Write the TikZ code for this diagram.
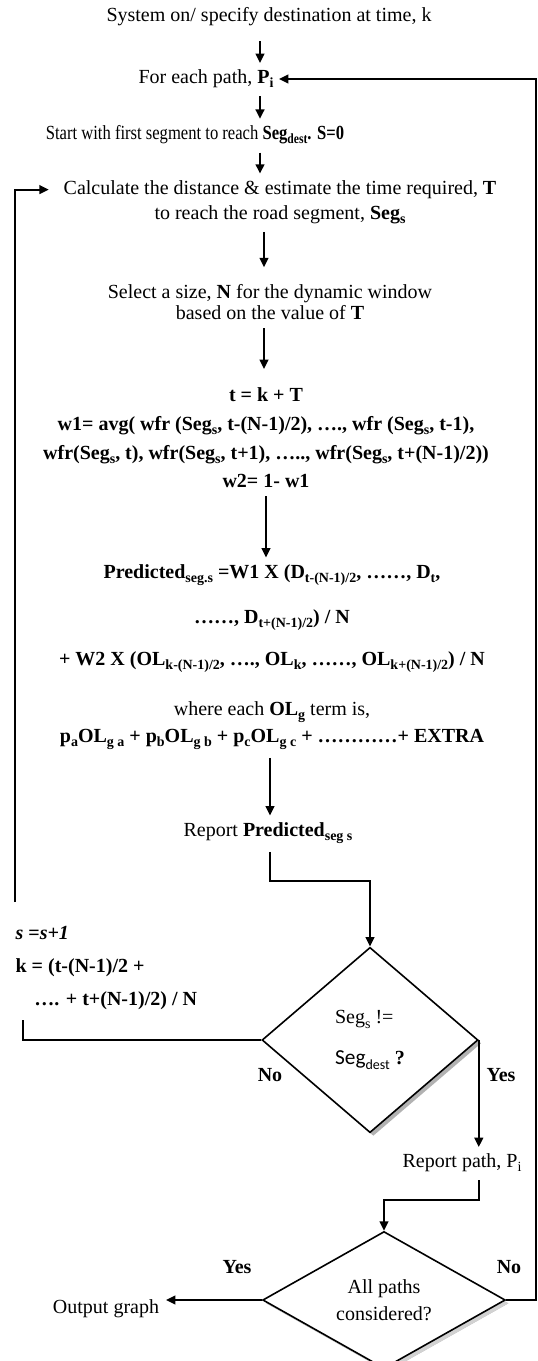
\documentclass[tikz,border=0pt]{standalone}
\usepackage{fontspec}
\setmainfont{Liberation Serif}
\newfontfamily\segfont{Carlito}
\newfontfamily\narrowfont[FakeStretch=0.83]{Liberation Serif}
\usepackage{tikz}
\usetikzlibrary{positioning,arrows.meta,shapes.geometric,shadows}
\newcommand{\fsz}{\fontsize{15pt}{17.5pt}\selectfont}
\newcommand{\sub}[1]{\raisebox{-0.45ex}{\fontsize{10.5pt}{12pt}\selectfont #1}}

\begin{document}
\begin{tikzpicture}[
  x=0.75pt, y=-0.75pt,
  font=\fsz,
  txt/.style={inner sep=1pt, align=center},
  bld/.style={txt, font=\fsz\bfseries},
  lbl/.style={inner sep=1pt, font=\fsz\bfseries},
  arr/.style={-{Triangle[length=7pt,width=6.5pt]}, line width=1.5pt, shorten <=5pt, shorten >=4pt},
  plain/.style={line width=1.5pt},
  ret/.style={line width=1.8pt},
  dec/.style={diamond, draw, line width=1.2pt, fill=white, inner sep=0pt, align=center,
              drop shadow={shadow xshift=2.5pt, shadow yshift=-2.5pt, fill=gray!60, opacity=1}}]
\useasboundingbox (0,0) rectangle (537,1361);
\coordinate (c1) at (260,0);
\coordinate (c2) at (264,0);
\coordinate (c3) at (266,0);
\coordinate (c4) at (270,0);
\node[txt] (sys) at (269,17) {System on/ specify destination at time, k};
\node[txt] (path) at (206,79) {For each path, \textbf{P\sub{i}}};
\node[txt, font=\fsz\narrowfont] (first) at (195,135) {Start with first segment to reach \textbf{Seg\sub{dest}. S=0}};
\node[txt] (calc) at (280,202) {Calculate the distance \& estimate the time required, \textbf{T}\\[1pt]
  to reach the road segment, \textbf{Seg\sub{s}}};
\node[txt] (sel) at (270,302) {Select a size, \textbf{N} for the dynamic window\\[-1.5pt]
  based on the value of \textbf{T}};
\node[bld] (wgt) at (266,438) {t = k + T\\[4pt]
  w1= avg( wfr (Seg\sub{s}, t-(N-1)/2), …., wfr (Seg\sub{s}, t-1),\\[4pt]
  wfr(Seg\sub{s}, t), wfr(Seg\sub{s}, t+1), ….., wfr(Seg\sub{s}, t+(N-1)/2))\\[4pt]
  w2= 1- w1};
\node[txt] (pred) at (272,657) {\textbf{Predicted\sub{seg.s} =W1 X (D\sub{t-(N-1)/2}, ……, D\sub{t},}\\[16pt]
  \textbf{……, D\sub{t+(N-1)/2}) / N}\\[14pt]
  \textbf{+ W2 X (OL\sub{k-(N-1)/2}, …., OL\sub{k}, ……, OL\sub{k+(N-1)/2}) / N}\\[20pt]
  where each \textbf{OL\sub{g}} term is,\\[3pt]
  \textbf{p\sub{a}OL\sub{g a} + p\sub{b}OL\sub{g b} + p\sub{c}OL\sub{g c} + …………+ EXTRA}};
\node[txt] (rep) at (268,833) {Report \textbf{Predicted\sub{seg s}}};
\node[dec, minimum width=162pt, minimum height=139pt] (d1) at (370,1040) {};
\node[txt, align=left] (d1t) at (370,1040) {Seg\sub{s} !=\\[13pt] {\segfont\fontsize{16pt}{18pt}\selectfont Seg\sub{dest}} \textbf{?}};
\node[bld, align=left, anchor=west] (upd) at (14,968) {\textit{s} =\textit{s+1}\\[7pt]
  k = (t-(N-1)/2 +\\[7pt]
  \hspace*{14pt}…. + t+(N-1)/2) / N};
\node[txt] (rpath) at (462,1163) {Report path, P\sub{i}};
\node[dec, minimum width=182pt, minimum height=89pt,
      drop shadow={shadow xshift=2.5pt, shadow yshift=-2.5pt, fill=gray!35, opacity=1}] (d2) at (384,1300) {All paths\\[3pt] considered?};
\node[txt] (out) at (106,1309) {Output graph};
\node[lbl] (no1) at (270,1075) {No};
\node[lbl] (yes1) at (501,1075) {Yes};
\node[lbl] (yes2) at (237,1267) {Yes};
\node[lbl] (no2) at (509,1267) {No};
\coordinate (nofree) at (23,1020);
\coordinate (upfree) at (15,902);
\draw[arr, shorten <=10pt] (sys.south -| c1) -- (path.north -| c1);
\draw[arr] (path.south -| c1) -- (first.north -| c1);
\draw[arr] (first.south -| c1) -- (calc.north -| c1);
\draw[arr, shorten >=11.5pt] (calc.south -| c2) -- (sel.north -| c2);
\draw[arr, shorten >=13pt] (sel.south -| c2) -- (wgt.north -| c2);
\draw[arr] (wgt.south -| c3) -- (pred.north -| c3);
\draw[arr] (pred.south -| c4) -- (rep.north -| c4);
\draw[arr, shorten >=0pt] (rep.south -| c4) -- ++(0,36) -| (d1.north);
\draw[arr, shorten <=0pt] (d1.east) -- (d1.east |- rpath.north);
\draw[plain] (d1.west) -| (nofree);
\draw[ret, arr, shorten <=0pt, shorten >=10pt] (upfree) |- ([yshift=-8pt]calc.north west);
\draw[arr, shorten >=0pt] (rpath.south -| d1.east) -- ++(0,26) -| (d2.north);
\draw[arr, shorten <=0pt] (d2.west) -- (d2.west -| out.east);
\draw[ret, arr, shorten <=0pt, shorten >=3pt] (d2.east) -- ++(30,0) |- (path.east);
\end{tikzpicture}
\end{document}
